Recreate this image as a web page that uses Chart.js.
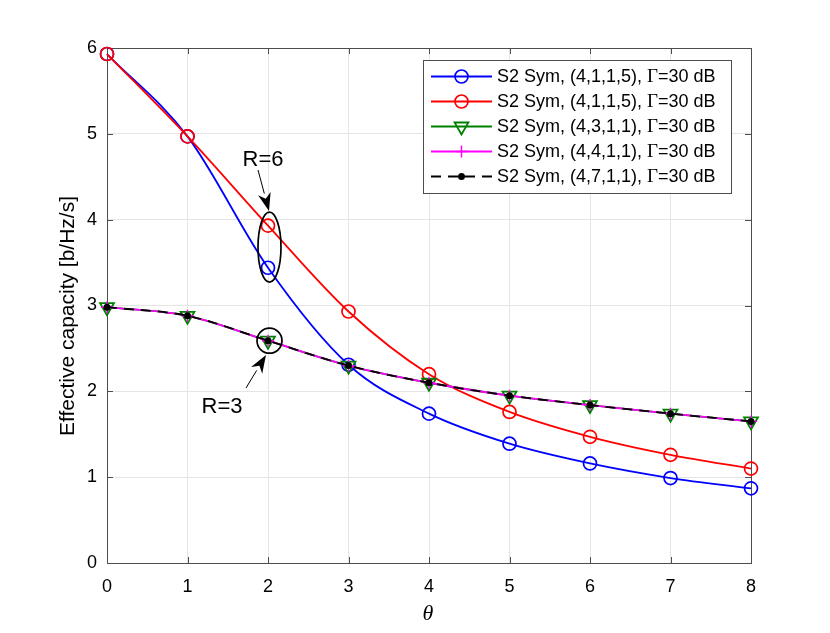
<!DOCTYPE html>
<html>
<head>
<meta charset="utf-8">
<script src="https://cdn.jsdelivr.net/npm/chart.js@4.4.0/dist/chart.umd.min.js"></script>
<style>
  html, body { margin: 0; padding: 0; background: #fff; }
  #wrap { width: 830px; height: 633px; }
</style>
</head>
<body>
<div id="wrap"><canvas id="capChart" width="830" height="633"></canvas></div>
<script>
// Effective capacity vs theta, S2 Sym curves
const thetaValues = [0, 1, 2, 3, 4, 5, 6, 7, 8];
const blueCap    = [5.93, 4.97, 3.44, 2.31, 1.74, 1.39, 1.16, 0.99, 0.87];
const redCap     = [5.93, 4.97, 3.93, 2.93, 2.20, 1.76, 1.47, 1.26, 1.10];
const greenCap   = [2.98, 2.88, 2.59, 2.30, 2.10, 1.95, 1.84, 1.74, 1.65];
const magentaCap = [2.98, 2.88, 2.59, 2.30, 2.10, 1.95, 1.84, 1.74, 1.65];
const blackCap   = [2.98, 2.88, 2.59, 2.30, 2.10, 1.95, 1.84, 1.74, 1.65];
const legendLabels = [
  'S2 Sym, (4,1,1,5), ',
  'S2 Sym, (4,1,1,5), ',
  'S2 Sym, (4,3,1,1), ',
  'S2 Sym, (4,4,1,1), ',
  'S2 Sym, (4,7,1,1), '
];
const xTicks = [0, 1, 2, 3, 4, 5, 6, 7, 8];
const yTicks = [0, 1, 2, 3, 4, 5, 6];

const FONT = '"Liberation Sans", Arial, sans-serif';
const SERIF = '"Liberation Serif", "Times New Roman", serif';

function pts(vals) {
  return vals.map(function(v, i) { return { x: thetaValues[i], y: v }; });
}

const datasets = [
  { label: legendLabels[0], data: pts(blueCap), borderColor: '#0000ff', pointStyle: 'circle',
    pointRadius: 6.5, pointBorderWidth: 1.7, pointBackgroundColor: 'rgba(0,0,0,0)', order: 4 },
  { label: legendLabels[1], data: pts(redCap), borderColor: '#ff0000', pointStyle: 'circle',
    pointRadius: 6.5, pointBorderWidth: 1.7, pointBackgroundColor: 'rgba(0,0,0,0)', order: 3 },
  { label: legendLabels[2], data: pts(greenCap), borderColor: '#008000', pointStyle: 'triangle',
    pointRotation: 180, pointRadius: 8, pointBorderWidth: 1.8, pointBackgroundColor: 'rgba(0,0,0,0)', order: 2 },
  { label: legendLabels[3], data: pts(magentaCap), borderColor: '#ff00ff', pointStyle: 'cross',
    pointRadius: 6, pointBorderWidth: 1.4, pointBackgroundColor: 'rgba(0,0,0,0)', order: 1 },
  { label: legendLabels[4], data: pts(blackCap), borderColor: '#000000', borderDash: [10, 7],
    pointStyle: 'circle', pointRadius: 3.5, pointBorderWidth: 0, pointBackgroundColor: '#000000', order: 0 }
];
datasets.forEach(function(d) {
  d.borderWidth = 1.8;
  d.fill = false;
  d.clip = false;
  d.cubicInterpolationMode = 'monotone';
  d.pointBorderColor = d.borderColor;
  d.pointHoverRadius = d.pointRadius;
});

// box, inward ticks, axis titles, legend, annotations
const matlabDecor = {
  id: 'matlabDecor',
  beforeDatasetsDraw: function(chart) {
    const ctx = chart.ctx;
    const a = chart.chartArea;
    const xs = chart.scales.x, ys = chart.scales.y;
    ctx.save();
    // axes box with inward ticks
    ctx.strokeStyle = '#4d4d4d';
    ctx.lineWidth = 1;
    ctx.strokeRect(a.left + 0.5, a.top + 0.5, a.right - a.left, a.bottom - a.top);
    ctx.beginPath();
    xTicks.forEach(function(t) {
      const px = Math.round(xs.getPixelForValue(t)) + 0.5;
      ctx.moveTo(px, a.bottom); ctx.lineTo(px, a.bottom - 6);
      ctx.moveTo(px, a.top); ctx.lineTo(px, a.top + 6);
    });
    yTicks.forEach(function(t) {
      const py = Math.round(ys.getPixelForValue(t)) + 0.5;
      ctx.moveTo(a.left, py); ctx.lineTo(a.left + 6, py);
      ctx.moveTo(a.right, py); ctx.lineTo(a.right - 6, py);
    });
    ctx.stroke();

    // axis titles
    ctx.fillStyle = '#000';
    ctx.textAlign = 'center';
    ctx.textBaseline = 'middle';
    ctx.font = 'italic 22px ' + SERIF;
    ctx.fillText('\u03b8', 428, 614);
    ctx.translate(68, 316);
    ctx.rotate(-Math.PI / 2);
    ctx.font = '21px ' + FONT;
    ctx.fillText('Effective capacity [b/Hz/s]', 0, 0);
    ctx.restore();
  },
  afterDatasetsDraw: function(chart) {
    const ctx = chart.ctx;
    const xs = chart.scales.x, ys = chart.scales.y;
    ctx.save();

    // annotations
    ctx.strokeStyle = '#000';
    ctx.fillStyle = '#000';
    ctx.lineWidth = 1.7;
    ctx.beginPath();
    ctx.ellipse(xs.getPixelForValue(2) + 1.5, ys.getPixelForValue(3.68), 11.5, 35, 0, 0, Math.PI * 2);
    ctx.stroke();
    ctx.beginPath();
    ctx.arc(xs.getPixelForValue(2) + 1.5, ys.getPixelForValue(2.59), 12.5, 0, Math.PI * 2);
    ctx.stroke();

    function arrow(x1, y1, x2, y2) {
      const ang = Math.atan2(y2 - y1, x2 - x1);
      const len = 18, half = 6.5;
      const bx = x2 - len * Math.cos(ang), by = y2 - len * Math.sin(ang);
      ctx.lineWidth = 1;
      ctx.beginPath();
      ctx.moveTo(x1, y1);
      ctx.lineTo(bx, by);
      ctx.stroke();
      ctx.beginPath();
      ctx.moveTo(x2, y2);
      ctx.lineTo(bx + half * Math.sin(ang), by - half * Math.cos(ang));
      ctx.lineTo(x2 - 0.7 * len * Math.cos(ang), y2 - 0.7 * len * Math.sin(ang));
      ctx.lineTo(bx - half * Math.sin(ang), by + half * Math.cos(ang));
      ctx.closePath();
      ctx.fill();
    }
    arrow(258, 170, 269, 211);
    arrow(246, 388, 266, 355);

    ctx.font = '22px ' + FONT;
    ctx.textAlign = 'center';
    ctx.textBaseline = 'middle';
    ctx.fillText('R=6', 263, 160);
    ctx.fillText('R=3', 222, 407);

    // legend
    const lx = 423, ly = 60, lw = 308, lh = 133;
    ctx.fillStyle = '#fff';
    ctx.fillRect(lx, ly, lw, lh);
    ctx.strokeStyle = '#4d4d4d';
    ctx.lineWidth = 1;
    ctx.strokeRect(lx + 0.5, ly + 0.5, lw, lh);
    chart.data.datasets.forEach(function(d, i) {
      const cy = 76.5 + i * 25;
      ctx.strokeStyle = d.borderColor;
      ctx.lineWidth = d.borderWidth;
      ctx.setLineDash(d.borderDash || []);
      ctx.beginPath();
      ctx.moveTo(431, cy); ctx.lineTo(492, cy);
      ctx.stroke();
      ctx.setLineDash([]);
      ctx.strokeStyle = d.pointBorderColor;
      ctx.fillStyle = d.pointBackgroundColor;
      ctx.lineWidth = d.pointBorderWidth;
      Chart.helpers.drawPoint(ctx, {
        pointStyle: d.pointStyle, rotation: d.pointRotation || 0, radius: d.pointRadius,
        borderWidth: d.pointBorderWidth
      }, 461.5, cy);
      ctx.fillStyle = '#000';
      ctx.textAlign = 'left';
      ctx.font = '18px ' + FONT;
      ctx.fillText(d.label, 497, cy + 1);
      let tx = 497 + ctx.measureText(d.label).width;
      ctx.font = '19px ' + SERIF;
      ctx.fillText('\u0393', tx, cy + 1);
      tx += ctx.measureText('\u0393').width;
      ctx.font = '18px ' + FONT;
      ctx.fillText('=30 dB', tx, cy + 1);
    });
    ctx.restore();
  }
};

new Chart(document.getElementById('capChart'), {
  type: 'line',
  data: { datasets: datasets },
  plugins: [matlabDecor],
  options: {
    responsive: false,
    animation: false,
    events: [],
    layout: { padding: { top: 48, right: 79, left: 0, bottom: 0 } },
    plugins: { legend: { display: false }, tooltip: { enabled: false } },
    scales: {
      x: {
        type: 'linear', min: 0, max: 8,
        afterFit: function(s) { s.height = 70; },
        afterBuildTicks: function(s) { s.ticks = xTicks.map(function(v) { return { value: v }; }); },
        grid: { color: '#e5e5e5', lineWidth: 1, drawTicks: false },
        border: { display: false },
        ticks: { color: '#000', padding: 13, maxRotation: 0, font: { family: FONT, size: 18 } }
      },
      y: {
        type: 'linear', min: 0, max: 6,
        afterFit: function(s) { s.width = 107; },
        afterBuildTicks: function(s) { s.ticks = yTicks.map(function(v) { return { value: v }; }); },
        grid: { color: '#e5e5e5', lineWidth: 1, drawTicks: false },
        border: { display: false },
        ticks: { color: '#000', padding: 10, font: { family: FONT, size: 18 } }
      }
    }
  }
});
</script>
</body>
</html>
